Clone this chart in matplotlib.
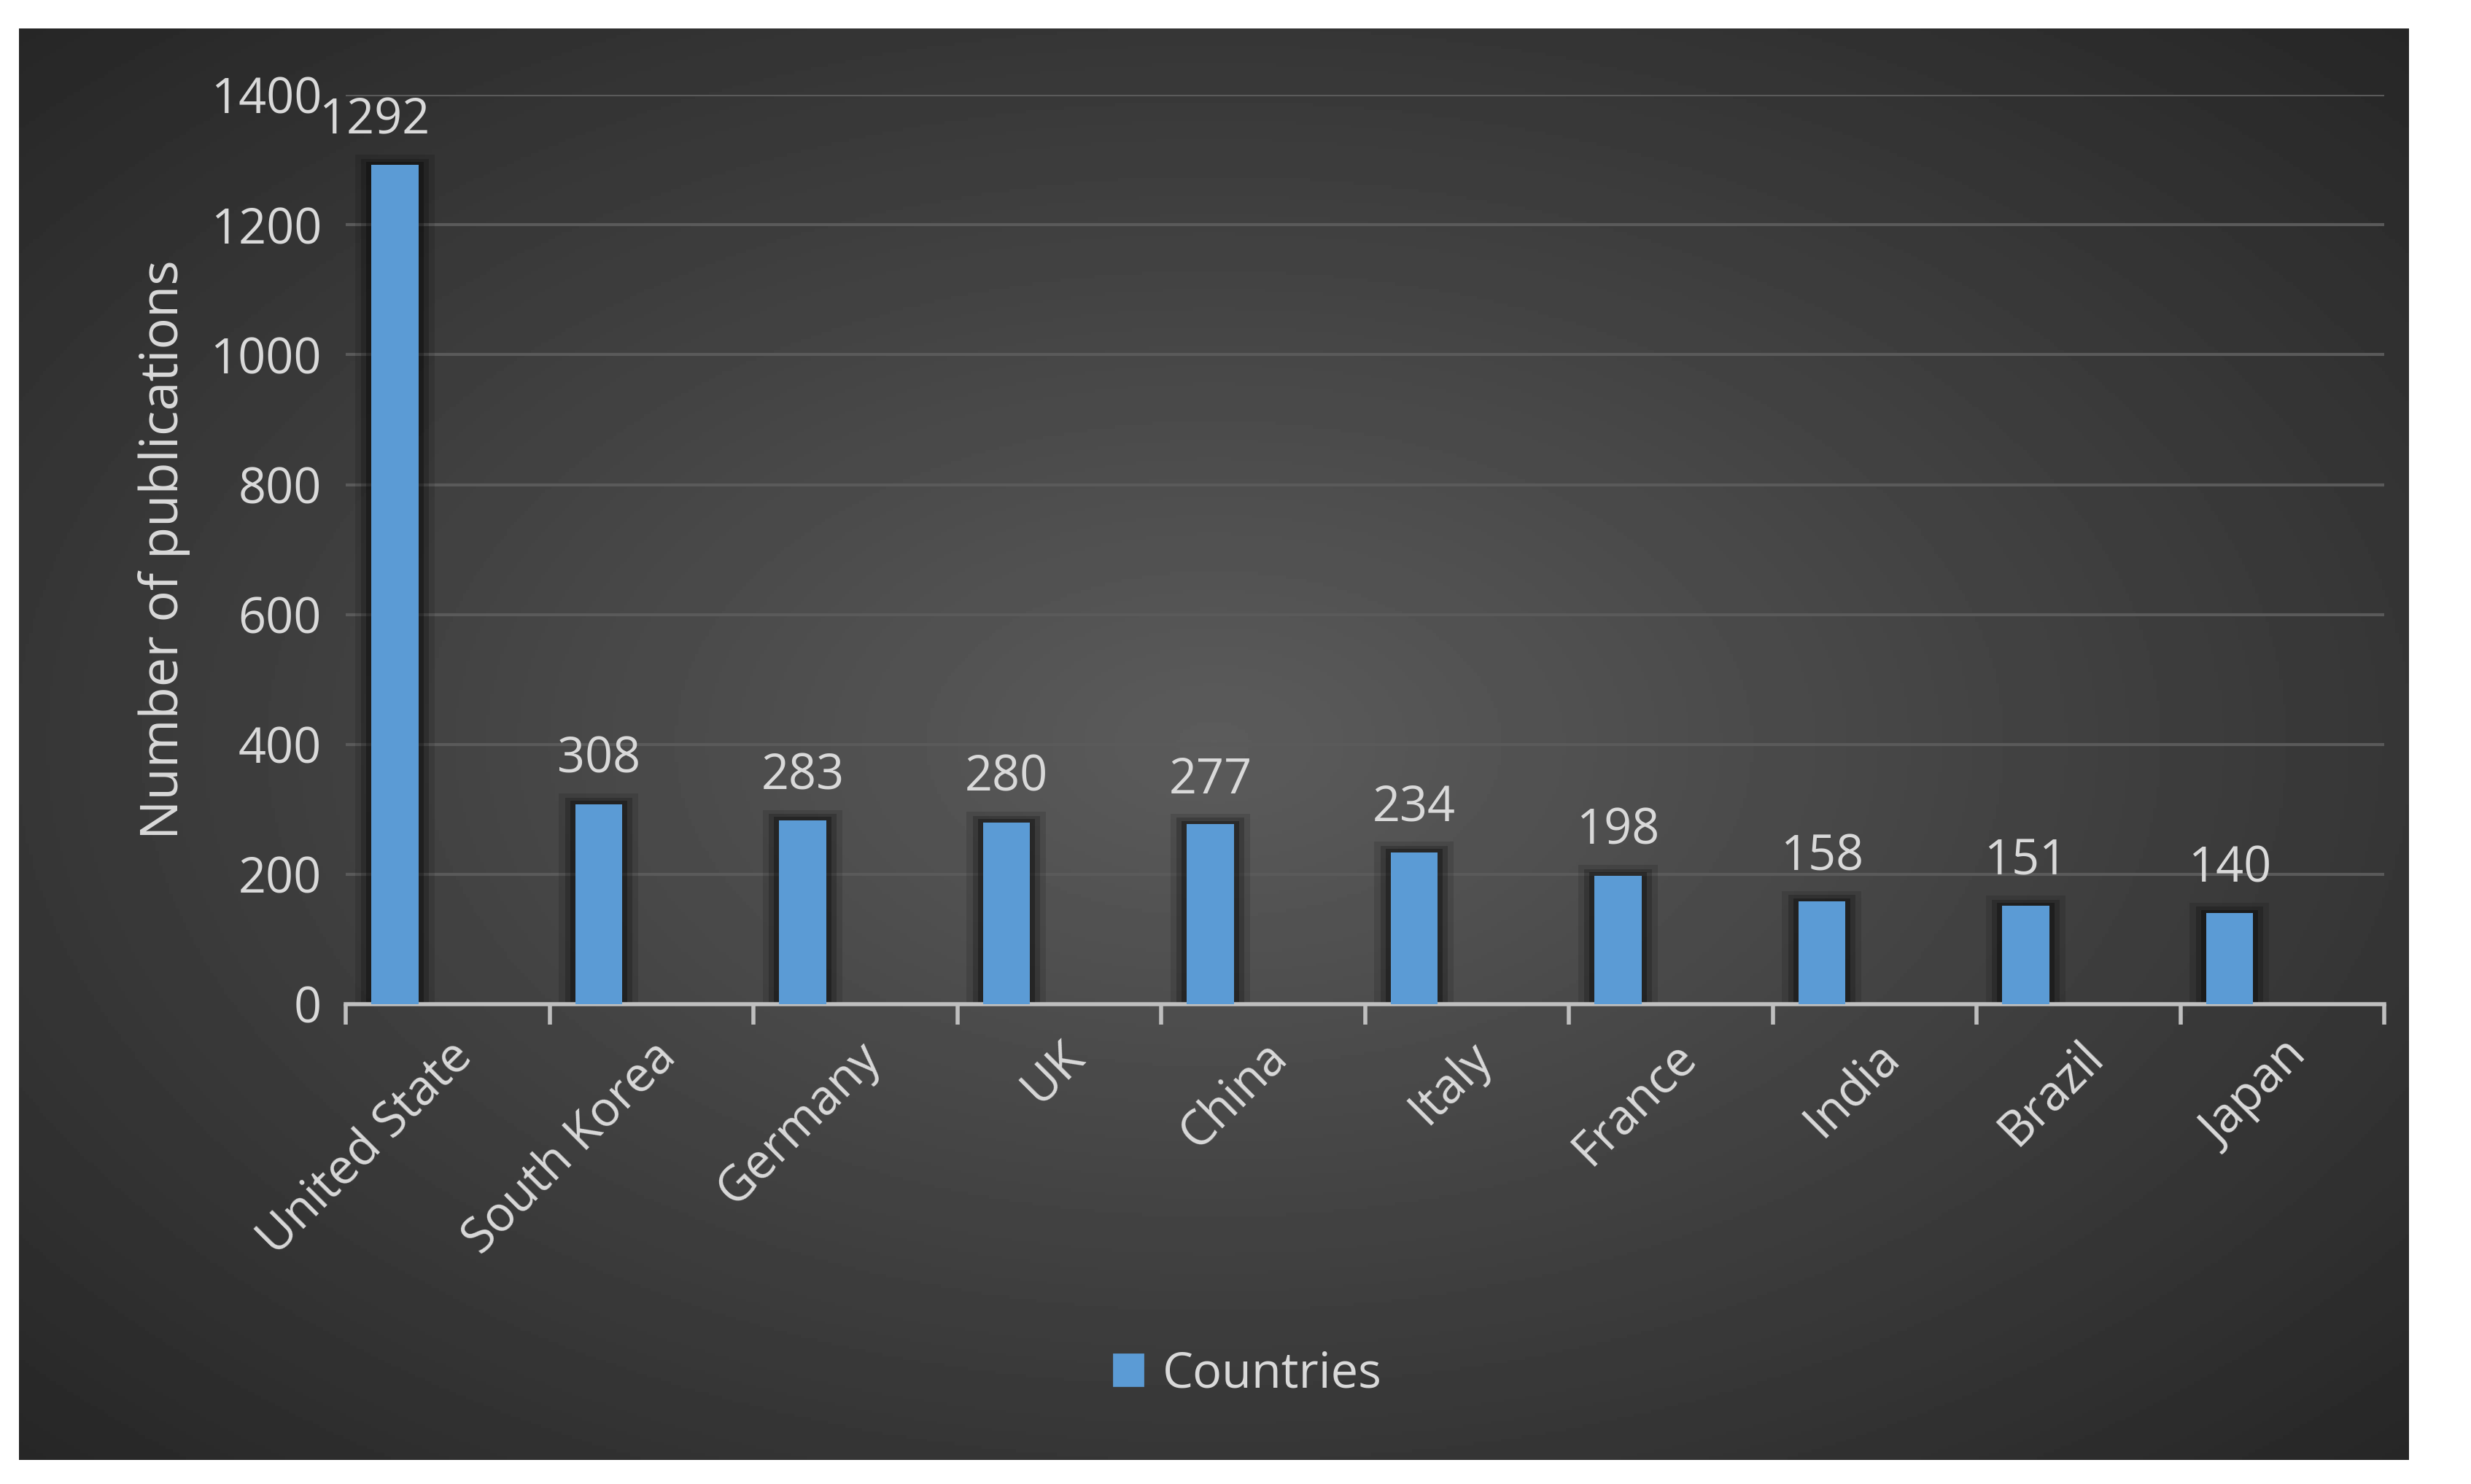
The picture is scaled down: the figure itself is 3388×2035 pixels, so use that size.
import numpy as np
import matplotlib
matplotlib.use("Agg")
import matplotlib.pyplot as plt
from matplotlib.patches import Rectangle

countries = ["United State", "South Korea", "Germany", "UK", "China",
             "Italy", "France", "India", "Brazil", "Japan"]
publications = [1292, 308, 283, 280, 277, 234, 198, 158, 151, 140]
yticks = [0, 200, 400, 600, 800, 1000, 1200, 1400]

plt.rcParams["font.family"] = ["Open Sans", "DejaVu Sans"]
TXT = "#d9d9d9"
BAR = "#5b9bd5"

fig = plt.figure(figsize=(16.94, 10.175), dpi=200, facecolor="white")

# dark panel with radial gradient
bg = fig.add_axes([0.0077, 0.016, 0.967, 0.965])
yy, xx = np.mgrid[-1:1:400j, -1:1:700j]
r = np.sqrt(xx**2 + yy**2) / np.sqrt(2)
bg.imshow(0.36 - 0.21 * r, cmap="gray", vmin=0, vmax=1, aspect="auto",
          extent=[0, 1, 0, 1])
bg.set_axis_off()

ax = fig.add_axes([0.140, 0.3234, 0.825, 0.6126])
ax.patch.set_alpha(0)
x = np.arange(len(countries))
off = -0.26
w = 0.23
# soft shadows
for xi, v in zip(x + off, publications):
    for k, a in [(0.08, 0.12), (0.05, 0.2), (0.025, 0.3)]:
        ax.add_patch(Rectangle((xi - w / 2 - k, 0), w + 2 * k, v + k * 200,
                               color="black", alpha=a, lw=0, zorder=1))
ax.bar(x + off, publications, width=w, color=BAR, zorder=3)
for xi, v in zip(x + off, publications):
    ax.text(xi - (0.1 if v > 1000 else 0), v + 30, str(v), ha="center",
            va="bottom", color=TXT, fontsize=24)

ax.set_xlim(-0.5, len(countries) - 0.5)
ax.set_ylim(0, 1400)
ax.set_yticks(yticks)
ax.yaxis.grid(True, color="#5a5a5a", lw=1.5, zorder=0)
ax.set_axisbelow(True)
for s in ["top", "right", "left"]:
    ax.spines[s].set_visible(False)
ax.spines["bottom"].set_color("#bfbfbf")
ax.spines["bottom"].set_linewidth(2)
ax.tick_params(axis="y", length=0, labelsize=24, labelcolor=TXT, pad=12)
ax.set_xticks(np.arange(len(countries) + 1) - 0.5, minor=True)
ax.tick_params(axis="x", which="minor", length=10, width=2, color="#bfbfbf")
ax.set_xticks(x)
ax.set_xticklabels(countries, rotation=45, ha="right", rotation_mode="anchor",
                   fontsize=24, color=TXT)
ax.tick_params(axis="x", which="major", length=0, pad=14)
ax.set_ylabel("Number of publications", fontsize=26, color=TXT, labelpad=10)

fig.legend(handles=[Rectangle((0, 0), 1, 1, color=BAR)], labels=["Countries"],
           loc="center", bbox_to_anchor=(0.505, 0.074), frameon=False,
           fontsize=24, labelcolor=TXT, handlelength=0.6, handleheight=0.6,
           handletextpad=0.4)

fig.savefig("out.png", dpi=200, facecolor="white")
